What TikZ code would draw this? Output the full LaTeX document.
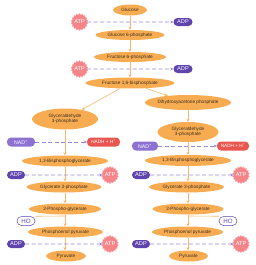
\documentclass[tikz,border=0pt]{standalone}
\usepackage{fontspec}
\setmainfont{Liberation Sans}
\usetikzlibrary{shapes.geometric,shapes.symbols,arrows.meta}
\definecolor{orng}{HTML}{F8AC52}
\definecolor{orline}{HTML}{F8B66E}
\definecolor{atpc}{HTML}{F6858A}
\definecolor{adpc}{HTML}{5E44AC}
\definecolor{nadc}{HTML}{8D72D2}
\definecolor{nadhc}{HTML}{E9564F}
\definecolor{dashc}{HTML}{9C88D8}
\definecolor{txtc}{HTML}{3A2E22}
\begin{document}
\begin{tikzpicture}[x=1pt,y=-1pt,
  every node/.style={font=\fontsize{4.7}{5.2}\selectfont, inner sep=0pt},
  met/.style={ellipse, fill=orng, text=txtc, align=center},
  atpn/.style={star, star points=18, star point ratio=1.16, fill=atpc, draw=atpc!55, line width=0.3pt, minimum size=17, text=white, font=\fontsize{5.6}{6}\selectfont},
  adpn/.style={rounded corners=4pt, fill=adpc, text=white, minimum width=19, minimum height=8, font=\fontsize{5.6}{6}\selectfont},
  nadn/.style={rounded corners=4pt, fill=nadc, text=white, minimum height=9, font=\fontsize{5.2}{6}\selectfont},
  nadhn/.style={rounded corners=4pt, fill=nadhc, text=white, minimum height=9},
  h2on/.style={rounded corners=4.5pt, draw=adpc, line width=0.5pt, fill=white, text=adpc, minimum width=18, minimum height=9, font=\fontsize{6.2}{6.5}\selectfont},
  flow/.style={draw=orline, line width=0.6pt, -{Stealth[length=3pt,width=3pt]}},
  side/.style={draw=dashc, line width=0.6pt, dash pattern=on 4pt off 2.5pt, -{Stealth[length=3pt,width=3pt]}}
]
\useasboundingbox (0,0) rectangle (256,265);
% main chain
\node[met, minimum width=34, minimum height=11] (glc) at (130,10) {Glucose};
\node[met, minimum width=69, minimum height=10] (g6p) at (130,35) {Glucose 6-phosphate};
\node[met, minimum width=72, minimum height=10] (f6p) at (130,57) {Fructose 6-phosphate};
\node[met, minimum width=89, minimum height=11] (f16) at (130,83) {Fructose 1,6-bisphosphate};
\node[met, minimum width=66, minimum height=21] (g3pL) at (65,119) {Glyceraldehyde\\3-phosphate};
\node[met, minimum width=71, minimum height=15] (dhap) at (188,102.5) {Dihydroxyacetone phosphate};
\node[met, minimum width=61, minimum height=20] (g3pR) at (188,132) {Glyceraldehyde\\3-phosphate};
\node[met, minimum width=86, minimum height=11] (bpgL) at (65,161) {1,3-Bisphosphoglycerate};
\node[met, minimum width=86, minimum height=11] (bpgR) at (188,160.5) {1,3-Bisphosphoglycerate};
\node[met, minimum width=75, minimum height=11] (g3L) at (64,187) {Glycerate 3-phosphate};
\node[met, minimum width=75, minimum height=11] (g3R) at (186.5,187) {Glycerate 3-phosphate};
\node[met, minimum width=72, minimum height=11] (pgL) at (65,209) {2-Phospho-glycerate};
\node[met, minimum width=71, minimum height=11] (pgR) at (188,209) {2-Phospho-glycerate};
\node[met, minimum width=75, minimum height=11] (pepL) at (65.5,232) {Phosphoenol pyruvate};
\node[met, minimum width=71, minimum height=11] (pepR) at (187.5,232) {Phosphoenol pyruvate};
\node[met, minimum width=40, minimum height=11] (pyrL) at (66,256) {Pyruvate};
\node[met, minimum width=39, minimum height=11] (pyrR) at (188.5,256) {Pyruvate};
% column arrows
\draw[flow] (glc) -- (g6p);
\draw[flow] (g6p) -- (f6p);
\draw[flow] (f6p) -- (f16);
\draw[flow] (f16) -- (g3pL);
\draw[flow] (f16) -- (dhap);
\draw[flow] (dhap) -- (g3pR);
\draw[flow] (g3pL) -- (bpgL);
\draw[flow] (g3pR) -- (bpgR);
\draw[flow] (bpgL.south -| 65,0) -- (g3L.north -| 65,0);
\draw[flow] (bpgR.south -| 188,0) -- (g3R.north -| 188,0);
\draw[flow] (g3L.south -| 65,0) -- (pgL.north -| 65,0);
\draw[flow] (g3R.south -| 188,0) -- (pgR.north -| 188,0);
\draw[flow] (pgL.south -| 65,0) -- (pepL.north -| 65,0);
\draw[flow] (pgR.south -| 188,0) -- (pepR.north -| 188,0);
\draw[flow] (pepL.south -| 65,0) -- (pyrL.north -| 65,0);
\draw[flow] (pepR.south -| 188,0) -- (pyrR.north -| 188,0);
% side species
\node[atpn] (atp1) at (79.5,22) {ATP};
\node[adpn] (adp1) at (183,22) {ADP};
\node[atpn] (atp2) at (79.5,69) {ATP};
\node[adpn] (adp2) at (183,69) {ADP};
\node[nadn, minimum width=28] (nadL) at (21,142) {NAD\textsuperscript{+}};
\node[nadhn, minimum width=33] (nadhL) at (103.5,142) {NADH + H\textsuperscript{+}};
\node[nadn, minimum width=26] (nadR) at (145,146) {NAD\textsuperscript{+}};
\node[nadhn, minimum width=32] (nadhR) at (233,146) {NADH + H\textsuperscript{+}};
\node[adpn, minimum width=18] (adp3) at (16,175) {ADP};
\node[atpn] (atp3) at (110,175) {ATP};
\node[adpn, minimum width=18] (adp4) at (141,175) {ADP};
\node[atpn] (atp4) at (241,175) {ATP};
\node[adpn, minimum width=18] (adp5) at (16,244) {ADP};
\node[atpn] (atp5) at (110,244) {ATP};
\node[adpn, minimum width=18] (adp6) at (141,244) {ADP};
\node[atpn] (atp6) at (241,244) {ATP};
\node[h2on] (h2oL) at (26,221) {HO};
\node[h2on] (h2oR) at (228,221) {HO};
% side reactions
\draw[side] (atp1) -- (adp1);
\draw[side] (atp2) -- (adp2);
\draw[side] (nadL) -- (nadhL);
\draw[side] (nadR) -- (nadhR);
\draw[side] (adp3) -- (atp3);
\draw[side] (adp4) -- (atp4);
\draw[side] (adp5) -- (atp5);
\draw[side] (adp6) -- (atp6);
\coordinate (wL) at (65,216);
\coordinate (wR) at (188,216);
\draw[orline, line width=0.6pt] (wL) -- (h2oL.north east);
\draw[orline, line width=0.6pt] (wR) -- (h2oR.north west);
\end{tikzpicture}
\end{document}
